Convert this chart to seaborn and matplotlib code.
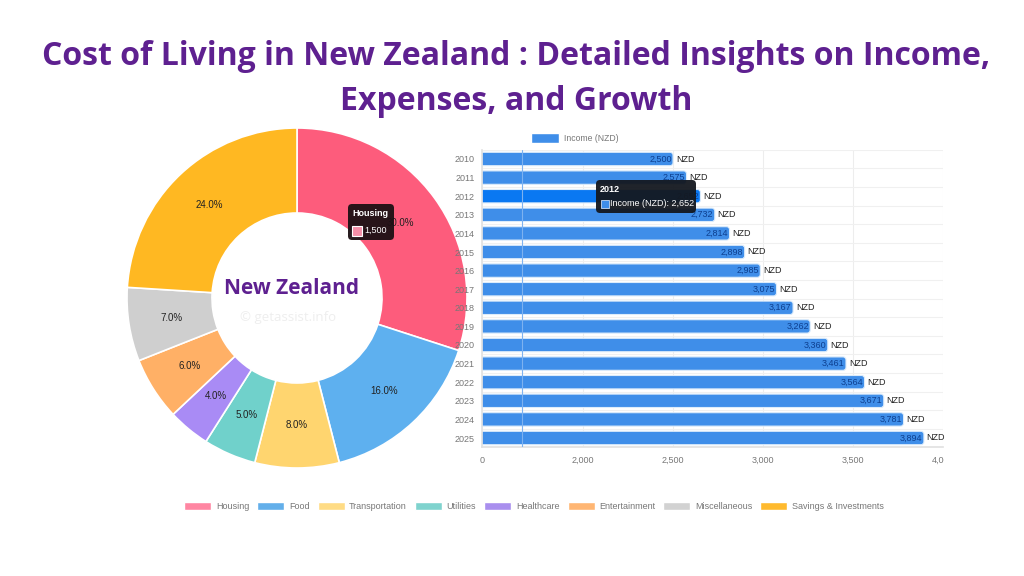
import matplotlib
matplotlib.use('Agg')
import matplotlib.pyplot as plt
from matplotlib.patches import FancyBboxPatch, Rectangle, Patch
from matplotlib.transforms import Bbox
import seaborn as sns
import pandas as pd

# pie data
categories = ['Housing', 'Food', 'Transportation', 'Utilities', 'Healthcare',
              'Entertainment', 'Miscellaneous', 'Savings & Investments']
amounts = [1500, 800, 400, 250, 200, 300, 350, 1200]
pie_colors = ['#fd5c7c', '#5eb0ef', '#ffd56f', '#70d1cb', '#a98bf5', '#ffb066', '#cfcfcf', '#ffb822']
legend_colors = ['#ff86a2', '#63afea', '#ffdc85', '#7fd3ce', '#a98fee', '#ffb673', '#d2d2d2', '#ffba2e']

# bar data
years = ['2010', '2011', '2012', '2013', '2014', '2015', '2016', '2017',
         '2018', '2019', '2020', '2021', '2022', '2023', '2024', '2025']
income = [2500, 2575, 2652, 2732, 2814, 2898, 2985, 3075,
          3167, 3262, 3360, 3461, 3564, 3671, 3781, 3894]
tick_values = [1437, 2000, 2500, 3000, 3500, 4000]
tick_labels = ['0', '2,000', '2,500', '3,000', '3,500', '4,000']

PURPLE = '#5e2090'
BAR_BLUE = '#3f8ee9'
W, H = 1024, 576

sns.set_theme(style='white')
plt.rcParams['font.family'] = ['Liberation Sans', 'DejaVu Sans']

fig = plt.figure(figsize=(W / 100, H / 100), dpi=100)


def px_axes(left, top, right, bottom):
    return fig.add_axes([left / W, 1 - bottom / H, (right - left) / W, (bottom - top) / H])


# donut
ax_pie = px_axes(127, 128, 467, 468)
wedges, _, pcts = ax_pie.pie(amounts, colors=pie_colors, startangle=90, counterclock=False,
                             radius=1.0, autopct='%1.1f%%', pctdistance=0.75,
                             wedgeprops=dict(width=0.5, edgecolor='white', linewidth=1.2),
                             textprops=dict(fontsize=7, color='#222222'))
ax_pie.set_xlim(-1, 1)
ax_pie.set_ylim(-1, 1)

# horizontal bars
ax_bar = px_axes(481.7, 149.7, 943, 447.3)
df = pd.DataFrame({'year': years, 'income': income})
sns.barplot(data=df, y='year', x='income', orient='h', color=BAR_BLUE, width=0.72,
            saturation=1, ax=ax_bar)
ax_bar.set_xlim(tick_values[0], 4000)
ax_bar.set_ylim(len(years) - 0.5, -0.5)
ax_bar.set_xlabel('')
ax_bar.set_ylabel('')

# swap square bars for rounded ones
px_x = (4000 - tick_values[0]) / (943 - 481.7)
px_y = len(years) / (447.3 - 149.7)
for bar, year in zip(list(ax_bar.patches), years):
    color = '#0a78f2' if year == '2012' else BAR_BLUE
    rounded = FancyBboxPatch((bar.get_x(), bar.get_y()), bar.get_width(), bar.get_height(),
                             boxstyle='round,pad=0,rounding_size=%f' % (3 * px_x),
                             mutation_aspect=px_y / px_x, facecolor=color,
                             edgecolor='#dcecfb', linewidth=0.8, zorder=2)
    ax_bar.add_patch(rounded)
    bar.set_visible(False)

ax_bar.set_xticks(tick_values)
ax_bar.set_xticklabels(tick_labels, fontsize=6.5, color='#777777')
ax_bar.tick_params(axis='y', labelsize=6.5, labelcolor='#777777', length=0, pad=5)
ax_bar.tick_params(axis='x', length=0, pad=6)
ax_bar.set_axisbelow(True)
ax_bar.grid(axis='x', color='#ededed', linewidth=0.8)
for y in range(len(years) + 1):
    ax_bar.axhline(y - 0.5, color='#f0f0f0', linewidth=0.8, zorder=1)
ax_bar.axvline(1437 + 40 * px_x, color='#7db2f0', linewidth=0.8, zorder=3)
for side in ['top', 'right']:
    ax_bar.spines[side].set_visible(False)
for side in ['left', 'bottom']:
    ax_bar.spines[side].set_color('#e2e2e2')

# the source chart is cut off at its right edge
clip = Bbox([[0, 0], [944, H]])
for label in ax_bar.get_xticklabels():
    label.set_clip_box(clip)
    label.set_clip_on(True)

for i, value in enumerate(income):
    ax_bar.annotate(f'{value:,}', (value, i), xytext=(-1, 0), textcoords='offset points',
                    ha='right', va='center', fontsize=6.5, color='#0d3f8f', zorder=4)
    ax_bar.annotate('NZD', (value, i), xytext=(2, 0), textcoords='offset points',
                    ha='left', va='center', fontsize=6.5, color='#222222', zorder=4,
                    annotation_clip=False)

ax_bar.legend(handles=[Patch(facecolor=BAR_BLUE, label='Income (NZD)')], loc='lower left',
              bbox_to_anchor=(0.092, 1.0), frameon=False, fontsize=6.2, labelcolor='#777777',
              handlelength=3.2, handleheight=1.3, handletextpad=0.6, borderpad=0.3)

# bottom legend
fig.legend(handles=[Patch(facecolor=c, label=n) for c, n in zip(legend_colors, categories)],
           loc='center', bbox_to_anchor=(534 / W, 1 - 506.5 / H), ncol=8, frameon=False,
           fontsize=6.5, labelcolor='#777777', handlelength=3.0, handleheight=0.9,
           handletextpad=0.5, columnspacing=0.9)

# overlay in pixel coordinates for title, centre text and tooltips
ov = fig.add_axes([0, 0, 1, 1], zorder=10)
ov.set_xlim(0, W)
ov.set_ylim(H, 0)
ov.axis('off')

ov.text(516, 79, 'Cost of Living in New Zealand : Detailed Insights on Income,\nExpenses, and Growth',
        ha='center', va='center', fontsize=23, fontweight='bold', color=PURPLE,
        family=['Open Sans', 'DejaVu Sans'], linespacing=1.45)
ov.text(292, 288, 'New Zealand', ha='center', va='center', fontsize=15, fontweight='bold',
        color=PURPLE, family=['Open Sans', 'DejaVu Sans'])
ov.text(288, 318, '© getassist.info', ha='center', va='center', fontsize=9.5, color='#eeeeee',
        family=['Open Sans', 'DejaVu Sans'])

tip_style = 'round,pad=0,rounding_size=4'
ov.add_patch(FancyBboxPatch((348, 204), 46, 36, boxstyle=tip_style, facecolor='#1c1014', edgecolor='none', alpha=0.95))
ov.text(352, 214, 'Housing', color='white', fontsize=6.5, fontweight='bold', va='center')
ov.add_patch(Rectangle((352, 226), 10, 10, facecolor='#f58fa8', edgecolor='white', linewidth=0.8))
ov.text(364, 230, '1,500', color='white', fontsize=6.5, va='center')

ov.add_patch(FancyBboxPatch((596, 180), 100, 33, boxstyle=tip_style, facecolor='#14181f', edgecolor='none', alpha=0.95))
ov.text(600, 189, '2012', color='white', fontsize=6.5, fontweight='bold', va='center')
ov.add_patch(Rectangle((601, 200), 8, 8, facecolor=BAR_BLUE, edgecolor='#c8dcf5', linewidth=0.6))
ov.text(610, 204, 'Income (NZD): 2,652', color='white', fontsize=6.5, va='center')

fig.savefig('out.png', dpi=100, facecolor='white')
